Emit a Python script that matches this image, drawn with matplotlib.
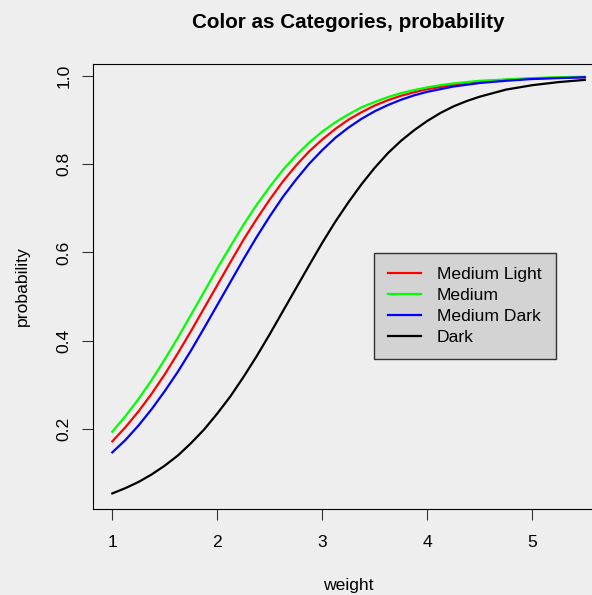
import matplotlib.pyplot as plt

plt.rcParams['font.family'] = ['Liberation Sans', 'DejaVu Sans']

# predicted probability per colour category, sampled along weight
weight = [1.0, 1.125, 1.25, 1.375, 1.5, 1.625, 1.75, 1.875, 2.0, 2.125, 2.25,
          2.375, 2.5, 2.625, 2.75, 2.875, 3.0, 3.125, 3.25, 3.375, 3.5, 3.625,
          3.75, 3.875, 4.0, 4.125, 4.25, 4.375, 4.5, 4.75, 5.0, 5.25, 5.5]
medium_light = [0.172, 0.204, 0.240, 0.280, 0.324, 0.372, 0.422, 0.474, 0.526, 0.578, 0.629,
                0.676, 0.720, 0.761, 0.797, 0.829, 0.856, 0.880, 0.901, 0.918, 0.933, 0.945,
                0.955, 0.963, 0.970, 0.975, 0.980, 0.984, 0.987, 0.991, 0.994, 0.996, 0.997]
medium = [0.194, 0.229, 0.268, 0.311, 0.358, 0.407, 0.459, 0.511, 0.564, 0.614, 0.663,
          0.708, 0.749, 0.787, 0.820, 0.849, 0.874, 0.895, 0.913, 0.929, 0.941, 0.952,
          0.961, 0.968, 0.974, 0.979, 0.983, 0.986, 0.989, 0.992, 0.995, 0.997, 0.998]
medium_dark = [0.147, 0.175, 0.208, 0.245, 0.286, 0.330, 0.378, 0.429, 0.481, 0.533, 0.585,
               0.635, 0.682, 0.726, 0.765, 0.801, 0.832, 0.860, 0.883, 0.903, 0.920, 0.934,
               0.946, 0.956, 0.964, 0.970, 0.976, 0.980, 0.984, 0.989, 0.993, 0.995, 0.997]
dark = [0.054, 0.066, 0.080, 0.097, 0.117, 0.140, 0.168, 0.199, 0.235, 0.274, 0.318,
        0.365, 0.415, 0.467, 0.519, 0.571, 0.622, 0.670, 0.714, 0.755, 0.792, 0.825,
        0.853, 0.877, 0.898, 0.916, 0.931, 0.943, 0.953, 0.969, 0.979, 0.986, 0.991]

labels = ['Medium Light', 'Medium', 'Medium Dark', 'Dark']
colors = ['#FF0000', '#00FF00', '#0000FF', '#000000']
xticks = [1, 2, 3, 4, 5]
yticks = [0.2, 0.4, 0.6, 0.8, 1.0]

bg = '#EEEEEE'
W, H = 592, 595
fig = plt.figure(figsize=(W / 100, H / 100), dpi=100, facecolor=bg)

# plot region runs a little past the right edge of the figure
left, right, top, bottom = 93.3, 604, 64, 509
ax = fig.add_axes([left / W, 1 - bottom / H, (right - left) / W, (bottom - top) / H])
ax.set_facecolor(bg)

for series, lab, col in zip([medium_light, medium, medium_dark, dark], labels, colors):
    ax.plot(weight, series, color=col, lw=1.6, label=lab, solid_joinstyle='round')

ax.set_xlim(0.819, 5.683)
ax.set_ylim(0.0187, 1.027)
ax.set_xticks(xticks)
ax.set_xticklabels([str(t) for t in xticks])
ax.set_yticks(yticks)
ax.set_yticklabels(['%.1f' % t for t in yticks], rotation=90, va='center')

for s in ax.spines.values():
    s.set_linewidth(0.8)
    s.set_color('black')
ax.tick_params(axis='both', direction='out', length=7.6, width=0.8, color='#333333',
               labelsize=12.6)
ax.tick_params(axis='x', pad=11)
ax.tick_params(axis='y', pad=8)

fig.text(348 / W, 1 - 27.5 / H, 'Color as Categories, probability', ha='center',
         va='baseline', fontsize=14.9, fontweight='bold')
fig.text(348 / W, 1 - 590 / H, 'weight', ha='center', va='baseline', fontsize=12.6)
fig.text(22 / W, 1 - 286.5 / H, 'probability', ha='center', va='center',
         rotation=90, fontsize=12.6)

leg = ax.legend(loc='upper left', bbox_to_anchor=(374 / W, 1 - 253 / H),
                bbox_transform=fig.transFigure, borderaxespad=0, fontsize=12.6,
                fancybox=False, framealpha=1, facecolor='#D3D3D3', edgecolor='#333333',
                borderpad=0.8, handlelength=1.9, handletextpad=0.9, labelspacing=0.33)
leg.get_frame().set_linewidth(1.0)

fig.savefig('out.png', dpi=100, facecolor=bg)
